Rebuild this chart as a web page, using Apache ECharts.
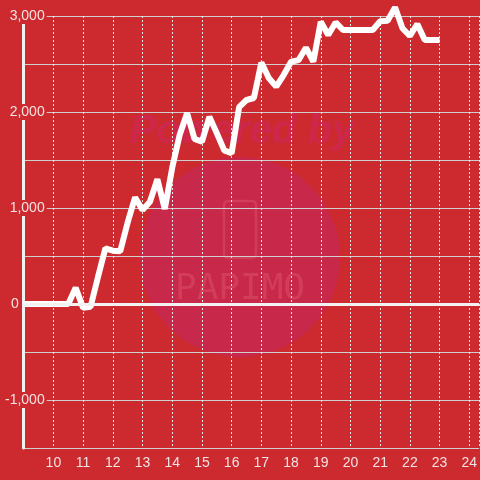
<!DOCTYPE html>
<html>
<head>
<meta charset="utf-8">
<script src="https://cdn.jsdelivr.net/npm/echarts@6/dist/echarts.min.js"></script>
<style>
  html, body { margin: 0; padding: 0; background: #cc2a2f; }
  #main { width: 480px; height: 480px; }
</style>
</head>
<body>
<div id="main"></div>
<script>
// hours (x) and values (y), 15 minute steps
var hours = [9, 9.25, 9.5, 9.75, 10, 10.25, 10.5, 10.75, 11, 11.25, 11.5, 11.75,
    12, 12.25, 12.5, 12.75, 13, 13.25, 13.5, 13.75, 14, 14.25, 14.5, 14.75,
    15, 15.25, 15.5, 15.75, 16, 16.25, 16.5, 16.75, 17, 17.25, 17.5, 17.75,
    18, 18.25, 18.5, 18.75, 19, 19.25, 19.5, 19.75, 20, 20.25, 20.5, 20.75,
    21, 21.25, 21.5, 21.75, 22, 22.25, 22.5, 22.75, 23];
var values = [0, 0, 0, 0, 0, 0, 0, 170, -40, -30, 280, 580,
    555, 550, 850, 1110, 980, 1065, 1300, 990, 1420, 1760, 1990, 1720,
    1690, 1950, 1780, 1600, 1570, 2050, 2125, 2146, 2515, 2354, 2264, 2385,
    2524, 2540, 2670, 2524, 2940, 2802, 2933, 2854, 2854, 2854, 2854, 2854,
    2945, 2950, 3090, 2872, 2792, 2917, 2750, 2750, 2750];

var chart = echarts.init(document.getElementById('main'));

var points = [];
for (var i = 0; i < hours.length; i++) {
    points.push([hours[i], values[i]]);
}

function fmt(v) {
    if (v === 0) return '{z|0}';
    if (v % 1000 !== 0) return '';
    return '{a|' + v.toLocaleString('en-US') + '}';
}

var option = {
    backgroundColor: '#cc2a2f',
    animation: false,
    graphic: [
        { type: 'circle', z: -10, silent: true, shape: { cx: 240, cy: 257, r: 100 }, style: { fill: '#c8284a' } },
        { type: 'text', z: -10, silent: true, x: 242, y: 132,
          style: { text: 'Powered by', fill: 'rgba(205,40,80,0.85)', font: 'italic bold 40px "Liberation Sans"', align: 'center', verticalAlign: 'middle' } },
        { type: 'rect', z: -10, silent: true, shape: { x: 224, y: 201, width: 32, height: 57, r: 4 },
          style: { fill: 'none', stroke: 'rgba(230,100,120,0.35)', lineWidth: 2.5 } },
        { type: 'text', z: -10, silent: true, x: 240, y: 290,
          style: { text: 'PAPIMO', fill: 'rgba(230,100,120,0.35)', font: '36px "DejaVu Sans Mono"', align: 'center', verticalAlign: 'middle' } }
    ],
    grid: { left: 20, right: 0, top: 16, bottom: 32 },
    xAxis: {
        type: 'value',
        min: 9,
        max: 9 + 460 / 30,
        interval: 1,
        axisLine: { lineStyle: { color: '#d9d9d9', width: 1 } },
        axisTick: { show: false },
        axisLabel: {
            color: '#f3e3e3', fontSize: 14, fontFamily: 'Liberation Sans', margin: 8,
            showMinLabel: false, showMaxLabel: false
        },
        splitLine: { show: true, lineStyle: { color: '#e6e6e6', type: [2, 2], width: 1 } }
    },
    yAxis: {
        type: 'value',
        min: -1500,
        max: 3000,
        interval: 500,
        axisLine: { show: true, lineStyle: { color: '#f2f2f2', width: 3 } },
        axisTick: { show: false },
        axisLabel: {
            margin: -23,
            color: '#f3e3e3', fontSize: 14, fontFamily: 'Liberation Sans',
            formatter: fmt,
            rich: {
                a: { color: '#f3e3e3', fontSize: 14, fontFamily: 'Liberation Sans', backgroundColor: '#cc2a2f', padding: [1, 2, 1, 2] },
                z: { color: '#f3e3e3', fontSize: 14, fontFamily: 'Liberation Sans', padding: [0, 28, 0, 0] }
            }
        },
        splitLine: { show: true, lineStyle: { color: '#cfcfcf', width: 1 } }
    },
    series: [{
        type: 'line',
        data: points,
        symbol: 'none',
        clip: false,
        lineStyle: { color: '#ffffff', width: 6 },
        markLine: {
            silent: true,
            symbol: 'none',
            label: { show: false },
            lineStyle: { color: '#f2f2f2', width: 3, type: 'solid' },
            data: [{ yAxis: 0 }]
        }
    }]
};

chart.setOption(option);
</script>
</body>
</html>
